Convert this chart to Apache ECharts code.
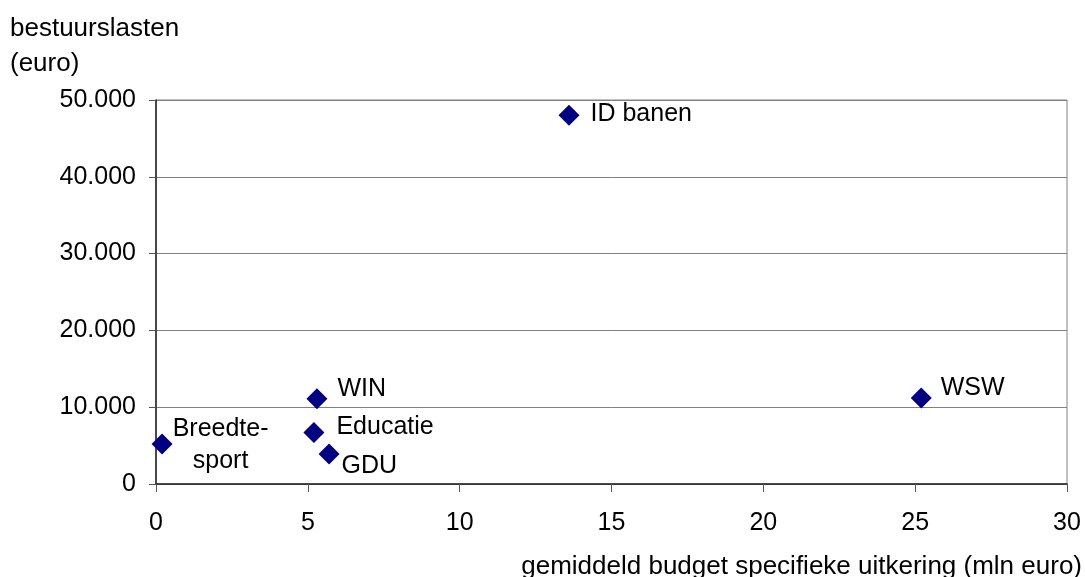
<!DOCTYPE html>
<html>
<head>
<meta charset="utf-8">
<script src="https://cdn.jsdelivr.net/npm/echarts@6/dist/echarts.min.js"></script>
<style>
  html, body { margin: 0; padding: 0; background: #fff; }
  #chart { width: 1085px; height: 577px; }
</style>
</head>
<body>
<div id="chart"></div>
<script>
// Regelingen: naam, gemiddeld budget (mln euro), bestuurslasten (euro)
const names = ['Breedte-\nsport', 'WIN', 'Educatie', 'GDU', 'ID banen', 'WSW'];
const budget = [0.2, 5.3, 5.2, 5.7, 13.6, 25.2];
const lasten = [5200, 11100, 6700, 3900, 48000, 11200];

const xTitle = 'gemiddeld budget specifieke uitkering (mln euro)';
const yTitle = ['bestuurslasten', '(euro)'];

// Label placement per point (offset relative to the default right-hand position)
const labelStyle = {
  'Breedte-\nsport': { offset: [38, 1], align: 'center' },
  'WIN': { offset: [0, -10] },
  'Educatie': { offset: [2, -5] },
  'GDU': { offset: [-8, 12] },
  'ID banen': { offset: [1, -1] },
  'WSW': { offset: [-1, -10] }
};

const FONT = '"Liberation Sans", Arial, sans-serif';
const FS = 25;
const TITLE_FS = 26;

function thousands(v) {
  return String(v).replace(/\B(?=(\d{3})+(?!\d))/g, '.');
}

const points = names.map((n, i) => {
  const s = labelStyle[n] || {};
  return {
    name: n,
    value: [budget[i], lasten[i]],
    label: {
      offset: s.offset || [0, 0],
      align: s.align || 'left'
    }
  };
});

const chart = echarts.init(document.getElementById('chart'), null, { renderer: 'canvas' });
chart.setOption({
  animation: false,
  backgroundColor: '#ffffff',
  textStyle: { fontFamily: FONT },
  grid: {
    left: 156, right: 18, top: 100, bottom: 93,
    show: true, borderColor: '#808080', borderWidth: 1, backgroundColor: 'transparent'
  },
  xAxis: {
    type: 'value', min: 0, max: 30, interval: 5,
    axisLine: { show: true, onZero: false, lineStyle: { color: '#222', width: 1.5 } },
    axisTick: { show: true, inside: false, length: 8, lineStyle: { color: '#555', width: 1 } },
    axisLabel: { color: '#000', fontSize: FS, fontFamily: FONT, margin: 27 },
    splitLine: { show: false }
  },
  yAxis: {
    type: 'value', min: 0, max: 50000, interval: 10000,
    axisLine: { show: true, onZero: false, lineStyle: { color: '#222', width: 1.5 } },
    axisTick: { show: true, inside: false, length: 7, lineStyle: { color: '#555', width: 1 } },
    axisLabel: { color: '#000', fontSize: FS, fontFamily: FONT, margin: 20, formatter: thousands },
    splitLine: { show: true, lineStyle: { color: '#808080', width: 1 } }
  },
  series: [{
    type: 'scatter',
    symbol: 'diamond',
    symbolSize: 21,
    itemStyle: { color: '#000080', opacity: 1 },
    label: {
      show: true,
      position: 'right',
      distance: 10,
      formatter: p => p.name,
      color: '#000',
      opacity: 1,
      fontSize: FS,
      fontFamily: FONT,
      lineHeight: 32
    },
    emphasis: { disabled: true },
    data: points,
    z: 5
  }],
  graphic: [
    {
      type: 'text', left: 10, top: 16,
      style: { text: yTitle[0], fill: '#000', fontSize: TITLE_FS, fontFamily: FONT }
    },
    {
      type: 'text', left: 10, top: 51,
      style: { text: yTitle[1], fill: '#000', fontSize: TITLE_FS, fontFamily: FONT }
    },
    {
      type: 'text', right: 3, top: 554,
      style: { text: xTitle, fill: '#000', fontSize: TITLE_FS, fontFamily: FONT }
    }
  ]
});
</script>
</body>
</html>
